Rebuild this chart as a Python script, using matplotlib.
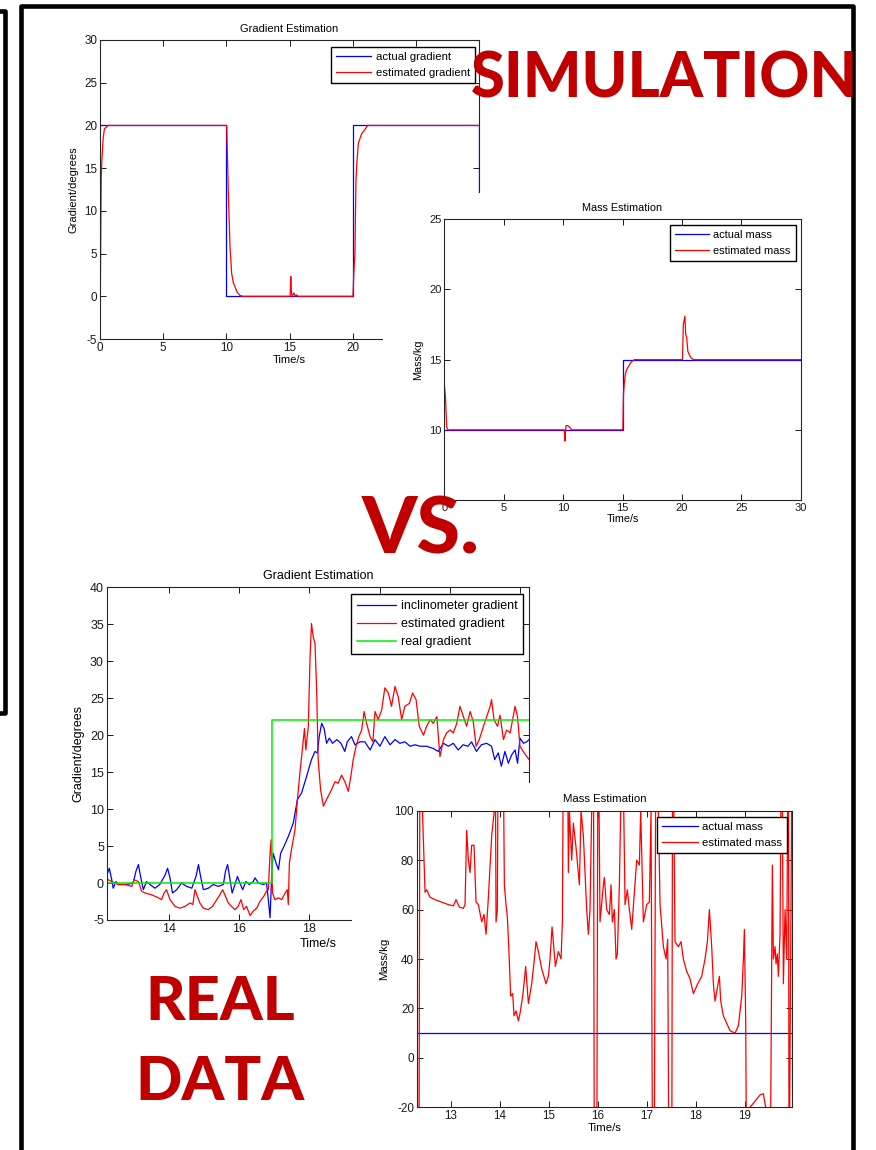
import matplotlib
matplotlib.use('Agg')
import matplotlib.pyplot as plt
from matplotlib.patches import Rectangle
from matplotlib.lines import Line2D

plt.rcParams['font.family'] = ['Liberation Sans', 'DejaVu Sans']
plt.rcParams['axes.unicode_minus'] = False

####################################
# Data
####################################

# simulation - gradient
sim_t_actual = [0, 10, 10, 20, 20, 30, 30]
sim_grad_actual = [20, 20, 0, 0, 20, 20, 0]
sim_t_est = [0, 0.05, 0.1, 0.15, 0.25, 0.35, 0.5, 0.65, 10.03, 10.16, 10.29, 10.42,
             10.55, 10.69, 10.85, 11.08, 11.3, 15.05, 15.1, 15.15, 15.2, 15.35, 15.45,
             15.55, 15.7, 15.9, 20.02, 20.1, 20.18, 20.26, 20.35, 20.45, 20.7, 21.0,
             21.2, 30]
sim_grad_est = [-4.3, 5, 14, 16, 18.5, 19.6, 19.8, 20, 20, 12, 5.8, 2.7,
                1.6, 1.1, 0.5, 0.1, 0, 0, 2.3, 0.5, 0, 0.4, 0,
                0.15, 0, 0, 0, 3, 5, 13.6, 16, 17.9, 19, 19.6,
                20, 20]

# simulation - mass
sim_mass_t_actual = [0, 15, 15, 30]
sim_mass_actual = [10, 10, 15, 15]
sim_mass_t_est = [0, 0.1, 0.2, 0.3, 10.1, 10.15, 10.2, 10.25, 10.4, 10.55, 10.7,
                  15.03, 15.08, 15.15, 15.25, 15.35, 15.5, 15.7, 16.0, 20.05, 20.12,
                  20.25, 20.32, 20.4, 20.5, 20.65, 20.8, 21.0, 30]
sim_mass_est = [13.3, 12.3, 10.2, 10, 10, 9.2, 9.9, 10.3, 10.3, 10.2, 10,
                10, 12.5, 13.3, 14.0, 14.3, 14.5, 14.8, 15, 15, 17.5,
                18.1, 16.8, 16.6, 15.6, 15.3, 15.1, 15, 15]

# real data - gradient
real_t_incl = [12.22, 12.30, 12.37, 12.41, 12.49, 12.56, 12.79, 12.98, 13.06, 13.13,
               13.19, 13.27, 13.36, 13.46, 13.6, 13.74, 13.89, 13.96, 14.03, 14.1,
               14.22, 14.36, 14.5, 14.65, 14.77, 14.84, 14.9, 14.98, 15.12, 15.26,
               15.41, 15.55, 15.61, 15.67, 15.74, 15.8, 15.88, 15.95, 16.02, 16.1,
               16.19, 16.29, 16.4, 16.45, 16.55, 16.69, 16.78, 16.83, 16.88, 16.93,
               16.97, 17.05, 17.12, 17.18, 17.28, 17.4, 17.54, 17.66, 17.78, 17.92,
               18.06, 18.16, 18.23, 18.28, 18.35, 18.42, 18.49, 18.57, 18.66, 18.78,
               18.9, 19.01, 19.08, 19.2, 19.3, 19.44, 19.58, 19.73, 19.87, 20.01,
               20.15, 20.3, 20.44, 20.58, 20.72, 20.87, 21.01, 21.15, 21.34, 21.53,
               21.67, 21.82, 21.96, 22.1, 22.24, 22.38, 22.52, 22.62, 22.76, 22.9,
               23.05, 23.19, 23.28, 23.38, 23.47, 23.57, 23.67, 23.76, 23.86, 23.93,
               24.0, 24.1, 24.19, 24.26]
real_grad_incl = [0.9, 2.0, 0.45, -0.7, 0.2, -0.2, -0.2, 0, 1.6, 2.5,
                  0.9, -0.9, 0.2, -0.2, -0.7, -0.2, 1.1, 2.0, 0.7, -1.35,
                  -0.9, 0, -0.45, -0.7, 0.9, 2.5, 0.9, -0.9, -0.7, -0.2,
                  -0.45, -0.2, 1.6, 2.5, 0.45, -1.35, -0.2, 0.9, 0, -0.9,
                  0.2, -0.2, 0.2, 0.7, 0, -0.2, 0, -2.25, -4.7, 1.6,
                  4.0, 2.7, 1.8, 4.0, 5.0, 6.3, 8.1, 11.3, 12.2, 14.4,
                  16.7, 17.8, 17.6, 19.8, 21.6, 20.9, 18.9, 19.6, 18.9, 19.4,
                  18.9, 17.8, 19.1, 19.8, 18.7, 19.1, 19.1, 18.0, 19.4, 18.5,
                  19.8, 18.7, 19.4, 18.9, 19.1, 18.5, 18.7, 18.5, 18.5, 18.2,
                  17.8, 18.9, 18.5, 18.9, 18.0, 18.7, 18.5, 19.1, 17.8, 18.7,
                  18.9, 18.5, 16.7, 17.6, 15.8, 17.8, 16.2, 17.3, 18.0, 16.2,
                  19.6, 18.9, 19.1, 19.4]
real_t_est = [12.22, 12.27, 12.37, 12.56, 12.75, 12.94, 13.0, 13.13, 13.22, 13.32,
              13.51, 13.7, 13.79, 13.86, 13.93, 14.03, 14.17, 14.31, 14.46, 14.6,
              14.68, 14.74, 14.81, 14.88, 14.98, 15.12, 15.24, 15.36, 15.45, 15.53,
              15.61, 15.69, 15.78, 15.88, 15.97, 16.05, 16.13, 16.21, 16.31, 16.4,
              16.5, 16.59, 16.7, 16.78, 16.83, 16.88, 16.91, 16.95, 17.02, 17.12,
              17.21, 17.31, 17.37, 17.4, 17.43, 17.49, 17.59, 17.66, 17.73, 17.81,
              17.86, 17.9, 17.97, 18.02, 18.06, 18.11, 18.16, 18.21, 18.25, 18.32,
              18.4, 18.49, 18.63, 18.73, 18.82, 18.92, 19.01, 19.11, 19.18, 19.25,
              19.33, 19.41, 19.49, 19.56, 19.63, 19.73, 19.81, 19.87, 19.96, 20.06,
              20.15, 20.25, 20.34, 20.44, 20.53, 20.63, 20.72, 20.85, 20.94, 21.04,
              21.13, 21.25, 21.34, 21.44, 21.53, 21.63, 21.72, 21.82, 21.91, 22.01,
              22.1, 22.2, 22.29, 22.39, 22.48, 22.58, 22.67, 22.75, 22.84, 22.96,
              23.05, 23.15, 23.19, 23.26, 23.36, 23.43, 23.53, 23.62, 23.72, 23.79,
              23.86, 23.93, 24.0, 24.12, 24.26]
real_grad_est = [0.2, 0.45, 0.2, -0.2, -0.2, -0.45, 0.45, 0.2, -1.1, -1.35,
                 -1.6, -2.0, -2.25, -1.35, -0.9, -2.25, -3.15, -3.4, -3.15, -2.7,
                 -2.9, -0.9, -1.8, -2.7, -3.4, -3.6, -3.15, -2.25, -1.6, -0.9,
                 -1.8, -2.7, -3.15, -3.6, -3.15, -2.25, -3.6, -3.15, -4.4, -3.8,
                 -3.4, -2.5, -1.8, -1.1, -0.9, 4.05, 5.85, -1.35, -2.25, -2.0,
                 -2.25, -1.35, -0.9, -2.9, 2.7, 4.5, 7.2, 11.3, 14.9, 18.5,
                 20.9, 18.0, 21.2, 30.6, 35.1, 33.3, 32.4, 25.7, 16.7, 12.6,
                 10.4, 11.3, 12.6, 13.7, 13.5, 14.6, 13.7, 12.4, 14.4, 16.7,
                 18.5, 19.8, 20.7, 23.2, 21.6, 19.8, 19.1, 23.2, 22.1, 23.4,
                 26.4, 25.7, 23.9, 26.6, 25.2, 22.1, 23.9, 24.3, 25.7, 24.8,
                 21.2, 20.0, 21.2, 22.1, 21.6, 22.5, 17.1, 19.4, 20.3, 20.7,
                 20.3, 21.6, 23.9, 22.5, 21.2, 23.2, 21.8, 18.5, 19.4, 21.2,
                 22.5, 23.9, 24.8, 22.1, 21.2, 22.7, 19.4, 20.7, 20.3, 22.1,
                 23.9, 22.5, 18.5, 17.6, 16.7]
real_t_true = [12.22, 16.93, 16.93, 24.26]
real_grad_true = [0, 0, 22, 22]

# real data - mass
real_mass_t_actual = [12.3, 19.97]
real_mass_actual = [10, 10]
real_mass_t_est = [12.30, 12.32, 12.345, 12.368, 12.402, 12.436, 12.47, 12.504, 12.572, 12.674,
                   12.81, 12.946, 13.048, 13.103, 13.171, 13.252, 13.286, 13.32, 13.354, 13.388,
                   13.422, 13.47, 13.511, 13.558, 13.627, 13.674, 13.715, 13.763, 13.831, 13.878,
                   13.899, 13.919, 13.946, 13.967, 14.055, 14.089, 14.123, 14.15, 14.178, 14.218,
                   14.259, 14.286, 14.327, 14.375, 14.409, 14.463, 14.49, 14.524, 14.579, 14.647,
                   14.701, 14.735, 14.783, 14.851, 14.939, 14.987, 15.021, 15.062, 15.13, 15.191,
                   15.246, 15.273, 15.30, 15.37, 15.395, 15.416, 15.463, 15.497, 15.552, 15.62,
                   15.654, 15.701, 15.769, 15.803, 15.837, 15.871, 15.905, 15.926, 15.973, 16.001,
                   16.041, 16.11, 16.13, 16.177, 16.232, 16.266, 16.293, 16.334, 16.368, 16.395,
                   16.436, 16.463, 16.49, 16.552, 16.599, 16.64, 16.688, 16.79, 16.844, 16.871,
                   16.926, 16.994, 17.048, 17.082, 17.116, 17.144, 17.184, 17.232, 17.266, 17.334,
                   17.388, 17.422, 17.436, 17.45, 17.504, 17.524, 17.572, 17.64, 17.694, 17.742,
                   17.81, 17.878, 17.946, 18.035, 18.116, 18.184, 18.232, 18.273, 18.32, 18.354,
                   18.388, 18.477, 18.504, 18.558, 18.694, 18.797, 18.865, 18.933, 18.967, 18.987,
                   19.014, 19.035, 19.103, 19.307, 19.375, 19.422, 19.511, 19.558, 19.579, 19.613,
                   19.633, 19.66, 19.681, 19.715, 19.749, 19.783, 19.817, 19.851, 19.885, 19.899,
                   19.967]
real_mass_est = [150, -60, -60, 150, 110, 88, 67, 68, 65, 64,
                 63, 62, 61.5, 64, 61, 60.5, 62, 92, 80, 75,
                 86, 86, 63, 62, 55, 58, 50, 65, 90, 99,
                 150, 55, 60, 150, 150, 70, 62, 57, 45, 25,
                 26, 17, 19, 15, 18, 25, 30, 37, 22, 30,
                 40, 47, 43, 36, 30, 33, 40, 53, 37, 43,
                 40, 55, 150, 150, 75, 100, 80, 95, 85, 70,
                 100, 90, 60, 50, 60, 100, 150, -60, -60, 150,
                 55, 70, 73, 60, 58, 70, 55, 60, 40, 42,
                 70, 100, 150, 62, 68, 60, 52, 80, 78, 100,
                 55, 62, 63, 100, -60, -60, 150, 100, 62, 45,
                 40, 48, 0, -60, -60, 150, 47, 45, 47, 40,
                 35, 32, 26, 30, 33, 40, 47, 60, 45, 30,
                 23, 33, 23, 17, 11, 10, 13, 25, 40, 52,
                 15, -60, -20, -15, -14.5, -20, -60, 78, 40, 45,
                 38, 42, 33, 50, 150, 30, 60, 40, 150, -60,
                 150]

####################################
# Layout helpers (pixel boxes)
####################################

W, H = 876, 1150
RED = '#C00000'


def box(l, t, r, b):
    return [l / W, 1 - b / H, (r - l) / W, (b - t) / H]


def style(ax, fs):
    ax.tick_params(direction='in', top=True, right=True, length=4, width=0.7,
                   labelsize=fs, pad=2, colors='#1a1a1a')
    for s in ax.spines.values():
        s.set_linewidth(0.8)
        s.set_color('#262626')


def hide_labels(labels, hidden):
    # tick labels that sit under the pasted-in panel
    return [('' if lab in hidden else lab) for lab in labels]


def legend(ax, fs, dx, dy, w, h):
    leg = ax.legend(loc='upper right', bbox_to_anchor=(1 - dx / w, 1 - dy / h),
                    borderaxespad=0, fancybox=False, edgecolor='black', framealpha=1,
                    fontsize=fs, handlelength=3.1, borderpad=0.45, labelspacing=0.5,
                    handletextpad=0.4)
    leg.get_frame().set_linewidth(1.0)


fig = plt.figure(figsize=(8.76, 11.5), dpi=100)

# simulation gradient
ax1 = fig.add_axes(box(100, 40, 479, 339), zorder=1)
ax1.plot(sim_t_actual, sim_grad_actual, color='b', lw=0.9, label='actual gradient')
ax1.plot(sim_t_est, sim_grad_est, color='r', lw=0.9, label='estimated gradient')
ax1.set_xlim(0, 30)
ax1.set_ylim(-5, 30)
sim_xt = list(range(0, 31, 5))
ax1.set_xticks(sim_xt, hide_labels([str(v) for v in sim_xt], ['25', '30']))
ax1.set_yticks(range(-5, 31, 5))
ax1.set_title('Gradient Estimation', fontsize=8, pad=6)
ax1.set_xlabel('Time/s', fontsize=8, labelpad=1)
ax1.set_ylabel('Gradient/degrees', fontsize=8, labelpad=4)
style(ax1, 8.4)
legend(ax1, 8.2, 4, 7, 379, 299)

fig.patches.append(Rectangle((383 / W, 1 - 535 / H), (845 - 383) / W, (535 - 193) / H,
                             transform=fig.transFigure, facecolor='white',
                             edgecolor='none', zorder=2))

# simulation mass
ax2 = fig.add_axes(box(444.3, 219.3, 800.7, 500), zorder=3)
ax2.plot(sim_mass_t_actual, sim_mass_actual, color='b', lw=0.9, label='actual mass')
ax2.plot(sim_mass_t_est, sim_mass_est, color='r', lw=0.9, label='estimated mass')
ax2.set_xlim(0, 30)
ax2.set_ylim(5, 25)
ax2.set_xticks(range(0, 31, 5))
sim_my = list(range(5, 26, 5))
ax2.set_yticks(sim_my, hide_labels([str(v) for v in sim_my], ['5']))
ax2.set_title('Mass Estimation', fontsize=7.8, pad=6)
ax2.set_xlabel('Time/s', fontsize=7.8, labelpad=1)
ax2.set_ylabel('Mass/kg', fontsize=7.8, labelpad=4)
style(ax2, 8)
legend(ax2, 7.9, 5, 6, 356.4, 280.7)

# real gradient
ax3 = fig.add_axes(box(106.7, 587.3, 529, 920), zorder=1)
ax3.plot(real_t_incl, real_grad_incl, color='b', lw=0.9, label='inclinometer gradient')
ax3.plot(real_t_est, real_grad_est, color='r', lw=0.9, label='estimated gradient')
ax3.plot(real_t_true, real_grad_true, color='#00ee00', lw=1.1, label='real gradient')
ax3.set_xlim(12.226, 24.257)
ax3.set_ylim(-5, 40)
real_xt = list(range(14, 25, 2))
ax3.set_xticks(real_xt, hide_labels([str(v) for v in real_xt], ['20', '22', '24']))
ax3.set_yticks(range(-5, 41, 5))
ax3.set_title('Gradient Estimation', fontsize=9, pad=6)
ax3.set_xlabel('Time/s', fontsize=9, labelpad=2)
ax3.set_ylabel('Gradient/degrees', fontsize=9, labelpad=4)
style(ax3, 9)
legend(ax3, 9, 6, 7, 422.3, 332.7)

fig.patches.append(Rectangle((352 / W, 0), (845 - 352) / W, (1150 - 783) / H,
                             transform=fig.transFigure, facecolor='white',
                             edgecolor='none', zorder=2))

# real mass
ax4 = fig.add_axes(box(416.7, 810.7, 792.3, 1107.3), zorder=3)
ax4.plot(real_mass_t_actual, real_mass_actual, color='b', lw=0.9, label='actual mass')
ax4.plot(real_mass_t_est, real_mass_est, color='r', lw=0.9, label='estimated mass')
ax4.set_xlim(12.3, 19.965)
ax4.set_ylim(-20, 100)
ax4.set_xticks(range(13, 20))
ax4.set_yticks(range(-20, 101, 20))
ax4.set_title('Mass Estimation', fontsize=8.2, pad=6)
ax4.set_xlabel('Time/s', fontsize=8.2, labelpad=1)
ax4.set_ylabel('Mass/kg', fontsize=8.2, labelpad=4)
style(ax4, 8.4)
legend(ax4, 8.2, 5, 6, 375.6, 296.6)

# big labels
big = dict(color=RED, family=['Lato', 'DejaVu Sans'], fontweight='black', zorder=10)
fig.text(665 / W, 1 - 97 / H, 'SIMULATION', ha='center', va='baseline', fontsize=44.5, **big)
fig.text(421 / W, 1 - 553 / H, 'VS.', ha='center', va='baseline', fontsize=57, **big)
fig.text(220 / W, 1 - 1020 / H, 'REAL', ha='center', va='baseline', fontsize=44, **big)
fig.text(220 / W, 1 - 1100 / H, 'DATA', ha='center', va='baseline', fontsize=44, **big)

# frames
def px_line(xs, ys):
    fig.add_artist(Line2D([x / W for x in xs], [1 - y / H for y in ys],
                          transform=fig.transFigure, color='black', lw=3.3,
                          solid_joinstyle='round', zorder=10))


px_line([21, 21, 852.5, 852.5], [1160, 6, 6, 1160])
px_line([-5, 4.5, 4.5, -5], [11, 11, 713, 713])

fig.savefig('out.png', dpi=100)
